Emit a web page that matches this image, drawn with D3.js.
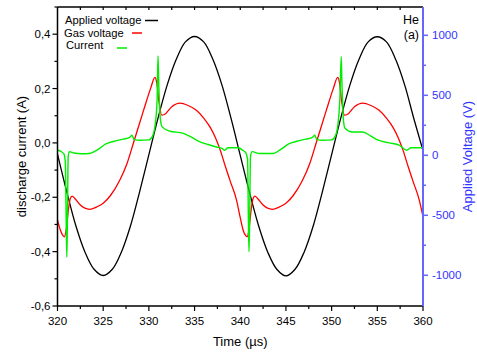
<!DOCTYPE html>
<html lang="en">
<head>
  <meta charset="UTF-8">
  <title>He discharge (a)</title>
  <script src="https://d3js.org/d3.v7.min.js"></script>
  <style>
    body { margin: 0; background: #fff; }
    svg { display: block; font-family: 'Liberation Sans', Arial, sans-serif; }
  </style>
</head>
<body>
  <svg width="477" height="354"></svg>
  <script>
    // time in µs, applied/gas voltage in V, current in A
    const appliedVoltage = [
      [320,10],[321,-300],[322,-585],[323,-805],[324,-950],[325,-1002],[326,-950],[327,-805],[328,-585],[329,-300],
      [330,5],[331,310],[332,585],[333,800],[334,945],[335,990],[336,945],[337,800],[338,585],[339,305],
      [340,0],[341,-305],[342,-585],[343,-805],[344,-950],[345,-1005],[346,-950],[347,-805],[348,-585],[349,-300],
      [350,5],[351,310],[352,585],[353,800],[354,945],[355,988],[356,945],[357,800],[358,585],[359,305],[360,40]
    ];
    const gasVoltage = [
      [320.0,-540],[320.3,-620],[320.6,-670],[320.75,-680],[320.95,-620],[321.2,-450],[321.4,-360],[321.6,-340],
      [321.9,-360],[322.5,-415],[323.5,-450],[324.3,-430],[325.0,-400],[325.8,-335],[326.8,-210],[327.6,-70],
      [328.3,100],[329.4,370],[330.2,560],[330.66,650],[330.85,610],[331.1,450],[331.4,335],[331.7,340],
      [332.5,405],[333.4,435],[334.3,415],[335.2,375],[336.0,310],[336.7,235],[337.3,145],[337.8,45],
      [338.4,-100],[338.9,-215],[339.6,-375],[340.0,-520],
      [340.3,-620],[340.6,-670],[340.75,-680],[340.95,-620],[341.2,-450],[341.4,-360],[341.6,-340],
      [341.9,-360],[342.5,-415],[343.5,-450],[344.3,-430],[345.0,-400],[345.8,-335],[346.8,-210],[347.6,-70],
      [348.3,100],[349.4,370],[350.2,560],[350.66,650],[350.85,610],[351.1,450],[351.4,335],[351.7,340],
      [352.5,405],[353.4,435],[354.3,415],[355.2,375],[356.0,310],[356.7,235],[357.3,145],[357.8,45],
      [358.4,-100],[358.9,-215],[359.6,-375],[360.0,-511]
    ];
    const current = [
      [320.0,-0.026],[320.4,-0.032],[320.7,-0.04],[320.85,-0.07],[320.97,-0.33],[321.02,-0.42],[321.08,-0.30],
      [321.17,-0.05],[321.3,-0.032],[321.8,-0.037],[322.6,-0.040],[323.5,-0.039],[324.4,-0.025],[325.3,-0.004],
      [326.2,0.006],[327.2,0.014],[327.9,0.020],[328.15,0.028],[328.4,0.012],[329.0,0.010],[330.0,0.011],
      [330.4,0.025],[330.7,0.07],[330.9,0.16],[331.0,0.32],[331.08,0.22],[331.25,0.09],[331.45,0.059],
      [332.3,0.043],[333.7,0.036],[334.6,0.022],[335.6,0.004],[336.5,-0.006],[337.4,-0.015],[338.0,-0.020],
      [338.3,-0.027],[338.65,-0.018],[339.8,-0.018],[340.3,-0.028],[340.6,-0.036],[340.8,-0.06],[340.9,-0.30],
      [340.96,-0.40],[341.03,-0.28],[341.12,-0.05],[341.3,-0.032],[342.1,-0.039],[343.6,-0.039],[344.4,-0.025],
      [345.3,-0.004],[346.2,0.006],[347.2,0.014],[347.9,0.020],[348.15,0.028],[348.4,0.012],[349.0,0.010],
      [350.0,0.011],[350.4,0.025],[350.7,0.07],[350.9,0.16],[351.05,0.317],[351.13,0.22],[351.28,0.09],
      [351.45,0.055],[352.3,0.04],[353.4,0.04],[354.3,0.025],[355.1,0.01],[356.3,0.0],[357.4,-0.008],
      [358.2,-0.027],[358.7,-0.018],[359.8,-0.018],[360.0,-0.02]
    ];

    const timeTicks = [320, 325, 330, 335, 340, 345, 350, 355, 360];
    const currentTicks = [-0.6, -0.4, -0.2, 0.0, 0.2, 0.4];
    const voltageTicks = [-1000, -500, 0, 500, 1000];

    const legendItems = [
      { label: "Applied voltage", color: "#000000" },
      { label: "Gas voltage", color: "#ff0000" },
      { label: "Current", color: "#00ee00" }
    ];

    const svg = d3.select("svg");
    const pL = 57.5, pR = 423, pT = 7, pB = 306;
    const blue = "#6666ff", blueText = "#3333ff";

    const x = d3.scaleLinear().domain([320, 360]).range([pL, pR]);
    const yI = d3.scaleLinear().domain([-0.6, 0.5]).range([pB, pT]);
    const yV = d3.scaleLinear().domain([-1256, 1236]).range([pB, pT]);

    const comma = d => d3.format(".1f")(d).replace(".", ",").replace("−", "-");

    // minor tick values
    const xMinor = d3.range(322.5, 360, 5);
    const xAll = d3.range(322.5, 360, 2.5);
    const iMinor = d3.range(-0.5, 0.55, 0.2);
    const vMinor = [-750, -250, 250, 750];

    // curves
    const plot = svg.append("g");
    const lineV = d3.line().x(d => x(d[0])).y(d => yV(d[1]));
    const lineI = d3.line().x(d => x(d[0])).y(d => yI(d[1])).curve(d3.curveMonotoneX);

    plot.append("path")
      .attr("d", lineV.curve(d3.curveCatmullRom)(appliedVoltage))
      .attr("fill", "none").attr("stroke", "#000").attr("stroke-width", 1.3);
    plot.append("path")
      .attr("d", lineV.curve(d3.curveMonotoneX)(gasVoltage))
      .attr("fill", "none").attr("stroke", "#ff0000").attr("stroke-width", 1.3);
    plot.append("path")
      .attr("d", lineI(current))
      .attr("fill", "none").attr("stroke", "#00ee00").attr("stroke-width", 1.4);

    // bottom axis
    const axB = svg.append("g").attr("transform", `translate(0,${pB})`);
    axB.append("line").attr("x1", pL).attr("x2", pR).attr("stroke", "#000").attr("stroke-width", 1.5);
    axB.selectAll(".maj").data(timeTicks).enter().append("line")
      .attr("x1", d => x(d)).attr("x2", d => x(d)).attr("y1", 0).attr("y2", 5)
      .attr("stroke", "#000").attr("stroke-width", 1.2);
    axB.selectAll(".min").data(xMinor).enter().append("line")
      .attr("x1", d => x(d)).attr("x2", d => x(d)).attr("y1", 0).attr("y2", 3)
      .attr("stroke", "#000").attr("stroke-width", 1.2);
    axB.selectAll("text").data(timeTicks).enter().append("text")
      .attr("x", d => x(d)).attr("y", 19).attr("text-anchor", "middle")
      .style("font-size", "11.5px").text(d => d);

    // top axis
    const axT = svg.append("g").attr("transform", `translate(0,${pT})`);
    axT.append("line").attr("x1", pL).attr("x2", pR).attr("stroke", "#000").attr("stroke-width", 1.5);
    axT.selectAll(".t").data(xAll).enter().append("line")
      .attr("x1", d => x(d)).attr("x2", d => x(d)).attr("y1", 0).attr("y2", 3)
      .attr("stroke", "#000").attr("stroke-width", 1.2);

    // left axis
    const axL = svg.append("g").attr("transform", `translate(${pL},0)`);
    axL.append("line").attr("y1", pT).attr("y2", pB).attr("stroke", "#000").attr("stroke-width", 1.5);
    axL.selectAll(".maj").data(currentTicks).enter().append("line")
      .attr("y1", d => yI(d)).attr("y2", d => yI(d)).attr("x1", 0).attr("x2", -5)
      .attr("stroke", "#000").attr("stroke-width", 1.2);
    axL.selectAll(".min").data(iMinor).enter().append("line")
      .attr("y1", d => yI(d)).attr("y2", d => yI(d)).attr("x1", 0).attr("x2", -3)
      .attr("stroke", "#000").attr("stroke-width", 1.2);
    axL.selectAll("text").data(currentTicks).enter().append("text")
      .attr("x", -7).attr("y", d => yI(d)).attr("dy", "0.35em").attr("text-anchor", "end")
      .style("font-size", "11.5px").text(comma);

    // right axis
    const axR = svg.append("g").attr("transform", `translate(${pR},0)`);
    axR.append("line").attr("y1", pT).attr("y2", pB).attr("stroke", blue).attr("stroke-width", 2);
    axR.selectAll(".maj").data(voltageTicks).enter().append("line")
      .attr("y1", d => yV(d)).attr("y2", d => yV(d)).attr("x1", 0).attr("x2", 5)
      .attr("stroke", blue).attr("stroke-width", 1.5);
    axR.selectAll(".min").data(vMinor).enter().append("line")
      .attr("y1", d => yV(d)).attr("y2", d => yV(d)).attr("x1", 0).attr("x2", 3)
      .attr("stroke", blue).attr("stroke-width", 1.5);
    axR.selectAll("text").data(voltageTicks).enter().append("text")
      .attr("x", 9).attr("y", d => yV(d)).attr("dy", "0.35em")
      .style("font-size", "11.5px").attr("fill", blueText).text(d => d);

    // axis titles
    svg.append("text").attr("x", (pL + pR) / 2).attr("y", 346).attr("text-anchor", "middle")
      .style("font-size", "13px").text("Time (µs)");
    svg.append("text").attr("transform", `translate(26,${(pT + pB) / 2}) rotate(-90)`)
      .attr("text-anchor", "middle").style("font-size", "13px").text("discharge current (A)");
    svg.append("text").attr("transform", `translate(472,${(pT + pB) / 2}) rotate(-90)`)
      .attr("text-anchor", "middle").style("font-size", "13px").attr("fill", blueText).text("Applied Voltage (V)");

    // legend
    const legX = [65, 64, 66], legY = [24, 36.5, 49];
    const legLine = [[145, 158, 20.5], [132, 142, 33], [117, 127, 48]];
    legendItems.forEach((d, i) => {
      svg.append("text").attr("x", legX[i]).attr("y", legY[i]).style("font-size", "11.2px").text(d.label);
      svg.append("line").attr("x1", legLine[i][0]).attr("x2", legLine[i][1])
        .attr("y1", legLine[i][2]).attr("y2", legLine[i][2])
        .attr("stroke", d.color).attr("stroke-width", 1.5);
    });

    svg.append("text").attr("x", 419).attr("y", 24).attr("text-anchor", "end").style("font-size", "12.5px").text("He");
    svg.append("text").attr("x", 419).attr("y", 39).attr("text-anchor", "end").style("font-size", "12.5px").text("(a)");
  </script>
</body>
</html>
